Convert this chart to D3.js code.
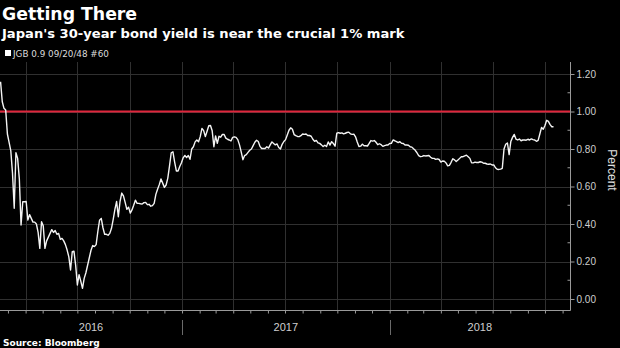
<!DOCTYPE html>
<html>
<head>
<meta charset="utf-8">
<script src="https://cdn.jsdelivr.net/npm/d3@7"></script>
<style>
  html, body { margin: 0; padding: 0; background: #000; }
  svg { display: block; }
</style>
</head>
<body>
<div id="chart"></div>
<script>
// ---------------- DATA ----------------
const title = "Getting There";
const subtitle = "Japan's 30-year bond yield is near the crucial 1% mark";
const legendLabel = "JGB 0.9 09/20/48 #60";
const sourceText = "Source: Bloomberg";
const axisTitle = "Percent";

const yTicks = [0, 0.2, 0.4, 0.6, 0.8, 1.0, 1.2];
const yMinorTicks = [0.1, 0.3, 0.5, 0.7, 0.9, 1.1];
const yearLabels = ["2016", "2017", "2018"];
const referenceLevel = 1.0;

const dates = [
  "2016-02-17","2016-02-20","2016-02-23","2016-02-26","2016-02-29",
  "2016-03-03","2016-03-06","2016-03-09","2016-03-12","2016-03-15","2016-03-18","2016-03-21","2016-03-24","2016-03-27","2016-03-30",
  "2016-04-02","2016-04-05","2016-04-08","2016-04-11","2016-04-14","2016-04-17","2016-04-20","2016-04-23","2016-04-26","2016-04-29",
  "2016-05-02","2016-05-05","2016-05-08","2016-05-11","2016-05-14","2016-05-17","2016-05-20","2016-05-23","2016-05-26","2016-05-29",
  "2016-06-01","2016-06-04","2016-06-07","2016-06-10","2016-06-13","2016-06-16","2016-06-19","2016-06-22","2016-06-25","2016-06-28",
  "2016-07-01","2016-07-04","2016-07-07","2016-07-10","2016-07-13","2016-07-16","2016-07-19","2016-07-22","2016-07-25","2016-07-28","2016-07-31",
  "2016-08-03","2016-08-06","2016-08-09","2016-08-12","2016-08-15","2016-08-18","2016-08-21","2016-08-24","2016-08-27","2016-08-30",
  "2016-09-02","2016-09-05","2016-09-08","2016-09-11","2016-09-14","2016-09-17","2016-09-20","2016-09-23","2016-09-26","2016-09-29",
  "2016-10-02","2016-10-05","2016-10-08","2016-10-11","2016-10-14","2016-10-17","2016-10-20","2016-10-23","2016-10-26","2016-10-29",
  "2016-11-01","2016-11-04","2016-11-07","2016-11-10","2016-11-13","2016-11-16","2016-11-19","2016-11-22","2016-11-25","2016-11-28",
  "2016-12-01","2016-12-04","2016-12-07","2016-12-10","2016-12-13","2016-12-16","2016-12-19","2016-12-22","2016-12-25","2016-12-28","2016-12-31",
  "2017-01-03","2017-01-06","2017-01-09","2017-01-12","2017-01-15","2017-01-18","2017-01-21","2017-01-24","2017-01-27","2017-01-30",
  "2017-02-02","2017-02-05","2017-02-08","2017-02-11","2017-02-14","2017-02-17","2017-02-20","2017-02-23","2017-02-26",
  "2017-03-01","2017-03-04","2017-03-07","2017-03-10","2017-03-13","2017-03-16","2017-03-19","2017-03-22","2017-03-25","2017-03-28","2017-03-31",
  "2017-04-03","2017-04-06","2017-04-09","2017-04-12","2017-04-15","2017-04-18","2017-04-21","2017-04-24","2017-04-27","2017-04-30",
  "2017-05-03","2017-05-06","2017-05-09","2017-05-12","2017-05-15","2017-05-18","2017-05-21","2017-05-24","2017-05-27","2017-05-30",
  "2017-06-02","2017-06-05","2017-06-08","2017-06-11","2017-06-14","2017-06-17","2017-06-20","2017-06-23","2017-06-26","2017-06-29",
  "2017-07-02","2017-07-05","2017-07-08","2017-07-11","2017-07-14","2017-07-17","2017-07-20","2017-07-23","2017-07-26","2017-07-29",
  "2017-08-01","2017-08-04","2017-08-07","2017-08-10","2017-08-13","2017-08-16","2017-08-19","2017-08-22","2017-08-25","2017-08-28","2017-08-31",
  "2017-09-03","2017-09-06","2017-09-09","2017-09-12","2017-09-15","2017-09-18","2017-09-21","2017-09-24","2017-09-27","2017-09-30",
  "2017-10-03","2017-10-06","2017-10-09","2017-10-12","2017-10-15","2017-10-18","2017-10-21","2017-10-24","2017-10-27","2017-10-30",
  "2017-11-02","2017-11-05","2017-11-08","2017-11-11","2017-11-14","2017-11-17","2017-11-20","2017-11-23","2017-11-26","2017-11-29",
  "2017-12-02","2017-12-05","2017-12-08","2017-12-11","2017-12-14","2017-12-17","2017-12-20","2017-12-23","2017-12-26","2017-12-29",
  "2018-01-01","2018-01-04","2018-01-07","2018-01-10","2018-01-13","2018-01-16","2018-01-19","2018-01-22","2018-01-25","2018-01-28","2018-01-31",
  "2018-02-03","2018-02-06","2018-02-09","2018-02-12","2018-02-15","2018-02-18","2018-02-21","2018-02-24","2018-02-27",
  "2018-03-02","2018-03-05","2018-03-08","2018-03-11","2018-03-14","2018-03-17","2018-03-20","2018-03-23","2018-03-26","2018-03-29",
  "2018-04-01","2018-04-04","2018-04-07","2018-04-10","2018-04-13","2018-04-16","2018-04-19","2018-04-22","2018-04-25","2018-04-28",
  "2018-05-01","2018-05-04","2018-05-07","2018-05-10","2018-05-13","2018-05-16","2018-05-19","2018-05-22","2018-05-25","2018-05-28","2018-05-31",
  "2018-06-03","2018-06-06","2018-06-09","2018-06-12","2018-06-15","2018-06-18","2018-06-21","2018-06-24","2018-06-27","2018-06-30",
  "2018-07-03","2018-07-06","2018-07-09","2018-07-12","2018-07-15","2018-07-18","2018-07-21","2018-07-24","2018-07-27","2018-07-30",
  "2018-08-02","2018-08-05","2018-08-08","2018-08-11","2018-08-14","2018-08-17","2018-08-20","2018-08-23","2018-08-26","2018-08-29",
  "2018-09-01","2018-09-04","2018-09-07","2018-09-10","2018-09-13","2018-09-16","2018-09-19","2018-09-22","2018-09-25","2018-09-28",
  "2018-10-01","2018-10-04","2018-10-07","2018-10-10","2018-10-13","2018-10-16"
];

const yields = [
  1.159,1.052,1.017,1.008,0.88,
  0.835,0.79,0.67,0.484,0.78,0.75,0.64,0.395,0.519,0.519,
  0.52,0.421,0.45,0.43,0.41,0.41,0.40,0.355,0.270,0.412,
  0.39,0.270,0.31,0.33,0.35,0.37,0.355,0.365,0.345,0.35,
  0.318,0.323,0.31,0.29,0.261,0.225,0.155,0.252,0.255,0.18,
  0.075,0.13,0.095,0.057,0.11,0.14,0.18,0.22,0.26,0.285,0.28,
  0.29,0.36,0.42,0.43,0.38,0.345,0.345,0.34,0.35,0.377,
  0.425,0.478,0.52,0.439,0.52,0.565,0.55,0.515,0.478,0.49,
  0.458,0.475,0.50,0.527,0.51,0.51,0.508,0.507,0.514,0.515,
  0.503,0.505,0.495,0.498,0.51,0.558,0.585,0.61,0.64,0.618,
  0.595,0.608,0.645,0.71,0.78,0.785,0.73,0.683,0.683,0.707,0.727,
  0.753,0.766,0.754,0.765,0.745,0.80,0.812,0.838,0.848,0.839,
  0.866,0.91,0.898,0.866,0.895,0.924,0.925,0.897,0.812,
  0.87,0.830,0.868,0.863,0.878,0.877,0.858,0.852,0.848,0.843,0.862,
  0.865,0.862,0.85,0.822,0.785,0.743,0.765,0.77,0.782,0.793,
  0.80,0.818,0.836,0.847,0.84,0.814,0.803,0.803,0.803,0.812,
  0.805,0.822,0.838,0.829,0.822,0.827,0.808,0.80,0.825,0.84,
  0.85,0.875,0.90,0.913,0.905,0.877,0.871,0.867,0.866,0.871,
  0.88,0.878,0.88,0.872,0.872,0.868,0.852,0.841,0.846,0.833,0.83,
  0.822,0.813,0.82,0.813,0.838,0.821,0.839,0.829,0.815,0.884,
  0.887,0.884,0.886,0.881,0.884,0.888,0.89,0.881,0.878,0.879,
  0.865,0.837,0.813,0.815,0.826,0.817,0.817,0.816,0.83,0.845,
  0.842,0.845,0.836,0.823,0.828,0.823,0.814,0.818,0.821,0.821,
  0.829,0.83,0.848,0.844,0.839,0.834,0.839,0.83,0.829,0.821,0.821,
  0.82,0.812,0.81,0.801,0.793,0.78,0.765,0.759,0.761,
  0.765,0.763,0.764,0.765,0.756,0.75,0.75,0.745,0.747,0.744,
  0.73,0.736,0.735,0.726,0.71,0.713,0.729,0.748,0.742,0.733,
  0.741,0.75,0.759,0.759,0.763,0.767,0.759,0.75,0.726,0.726,0.73,
  0.728,0.728,0.732,0.73,0.724,0.724,0.72,0.719,0.72,0.715,
  0.715,0.70,0.692,0.691,0.693,0.697,0.80,0.825,0.832,0.77,
  0.84,0.862,0.878,0.853,0.848,0.853,0.844,0.848,0.848,0.847,
  0.852,0.848,0.854,0.85,0.848,0.841,0.846,0.88,0.915,0.905,
  0.925,0.953,0.947,0.93,0.919,0.919
];

// ---------------- CHART ----------------
const W = 620, H = 348;
const parse = d3.timeParse("%Y-%m-%d");
const n = Math.min(dates.length, yields.length);
const series = d3.range(n).map(i => ({ date: parse(dates[i]), value: yields[i] }));

const plotLeft = 0, plotRight = 570, plotTop = 62, plotBottom = 310;
const domainStart = parse("2016-02-16"), domainEnd = parse("2018-11-14");

const x = d3.scaleTime().domain([domainStart, domainEnd]).range([plotLeft, plotRight]);
const y = d3.scaleLinear().domain([0, 1.2]).range([299, 74]);

const svg = d3.select("#chart").append("svg")
  .attr("width", W).attr("height", H)
  .style("background", "#000");

const grid = "#303030";

// horizontal gridlines
svg.append("g").selectAll("line").data(yTicks).join("line")
  .attr("x1", plotLeft).attr("x2", plotRight)
  .attr("y1", d => Math.round(y(d)) + 0.5).attr("y2", d => Math.round(y(d)) + 0.5)
  .attr("stroke", grid).attr("stroke-width", 1);

// vertical gridlines (quarters)
const quarters = d3.timeMonth.every(3).range(domainStart, domainEnd);
svg.append("g").selectAll("line").data(quarters).join("line")
  .attr("x1", d => Math.round(x(d)) + 0.5).attr("x2", d => Math.round(x(d)) + 0.5)
  .attr("y1", plotTop).attr("y2", plotBottom)
  .attr("stroke", grid).attr("stroke-width", 1);

// reference line at 1%
svg.append("line")
  .attr("x1", plotLeft).attr("x2", plotRight)
  .attr("y1", y(referenceLevel)).attr("y2", y(referenceLevel))
  .attr("stroke", "#e0263c").attr("stroke-width", 2);

// series line
svg.append("path").datum(series)
  .attr("fill", "none").attr("stroke", "#f4f4f4").attr("stroke-width", 1.4)
  .attr("stroke-linejoin", "round")
  .attr("d", d3.line().x(d => x(d.date)).y(d => y(d.value)));

// right axis
const yAxisG = svg.append("g").attr("transform", `translate(${plotRight + 0.5},0)`)
  .call(d3.axisRight(y).tickValues(yTicks).tickSize(4).tickPadding(2).tickFormat(d3.format(".2f")));
yAxisG.select(".domain").remove();
yAxisG.append("line").attr("x1", 0).attr("x2", 0).attr("y1", plotTop).attr("y2", plotBottom + 0.5)
  .attr("stroke", "#9a9a9a");
yAxisG.selectAll(".tick line").attr("stroke", "#9a9a9a");
yAxisG.selectAll(".tick text").attr("fill", "#cfcfcf")
  .style("font-family", "'Liberation Sans', Arial, sans-serif").style("font-size", "10px");
yAxisG.selectAll(".minor").data(yMinorTicks).join("line").attr("class", "minor")
  .attr("x1", -3).attr("x2", 0).attr("y1", d => y(d)).attr("y2", d => y(d))
  .attr("stroke", "#9a9a9a");

// bottom axis
const xAxisG = svg.append("g").attr("transform", `translate(0,${plotBottom + 0.5})`)
  .call(d3.axisBottom(x).ticks(d3.timeMonth.every(1)).tickSize(3).tickFormat(""));
xAxisG.select(".domain").remove();
xAxisG.append("line").attr("x1", plotLeft).attr("x2", plotRight + 0.5).attr("stroke", "#9a9a9a");
xAxisG.selectAll(".tick line").attr("stroke", "#9a9a9a");

// year separators & labels
const yearStarts = yearLabels.map(s => parse(s + "-01-01"));
const sepDates = yearStarts.filter(d => d > domainStart && d < domainEnd);
svg.append("g").selectAll("line").data(sepDates).join("line")
  .attr("x1", d => Math.round(x(d)) + 0.5).attr("x2", d => Math.round(x(d)) + 0.5)
  .attr("y1", 320).attr("y2", 335).attr("stroke", "#6a6a6a");
svg.append("g").selectAll("text").data(yearLabels).join("text")
  .attr("x", (d, i) => {
    const a = Math.max(plotLeft, x(yearStarts[i]));
    const b = i + 1 < yearStarts.length ? x(yearStarts[i + 1]) : plotRight;
    return (a + Math.min(b, plotRight)) / 2;
  })
  .attr("y", 331).attr("text-anchor", "middle")
  .attr("fill", "#cfcfcf")
  .style("font-family", "'Liberation Sans', Arial, sans-serif").style("font-size", "11px")
  .text(d => d);

// axis title
svg.append("text")
  .attr("transform", `translate(608,170) rotate(90)`)
  .attr("text-anchor", "middle")
  .attr("fill", "#e0e0e0")
  .style("font-family", "'Liberation Sans', Arial, sans-serif").style("font-size", "12px")
  .text(axisTitle);

// titles
svg.append("text").attr("x", 2).attr("y", 20).attr("fill", "#fff")
  .style("font-family", "'DejaVu Sans', sans-serif").style("font-weight", "bold").style("font-size", "17.3px")
  .text(title);
svg.append("text").attr("x", 2).attr("y", 38).attr("fill", "#fff")
  .style("font-family", "'DejaVu Sans', sans-serif").style("font-weight", "bold").style("font-size", "13.1px")
  .text(subtitle);

// legend
svg.append("rect").attr("x", 5).attr("y", 50).attr("width", 6).attr("height", 6).attr("fill", "#fff");
svg.append("text").attr("x", 13).attr("y", 56.5).attr("fill", "#dcdcdc")
  .style("font-family", "'DejaVu Sans', sans-serif").style("font-size", "8.8px")
  .text(legendLabel);

// source
svg.append("text").attr("x", 3).attr("y", 346).attr("fill", "#fff")
  .style("font-family", "'DejaVu Sans', sans-serif").style("font-weight", "bold").style("font-size", "9px")
  .text(sourceText);
</script>
</body>
</html>
